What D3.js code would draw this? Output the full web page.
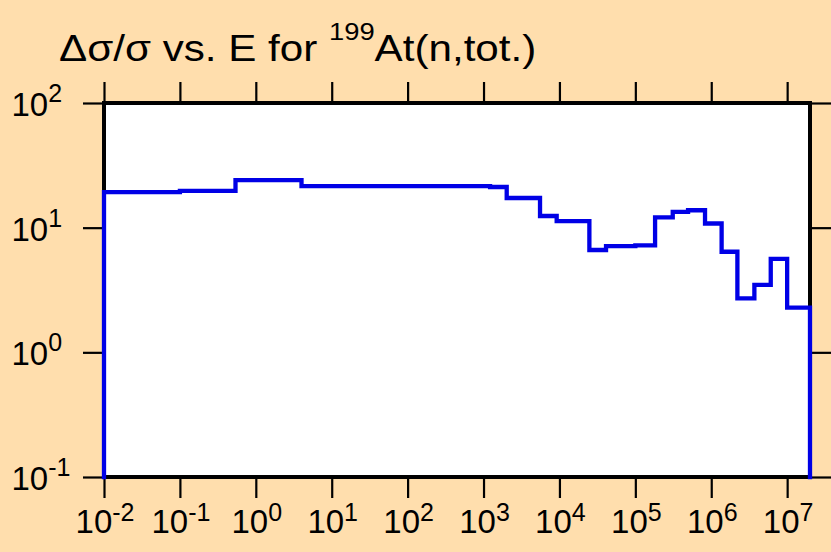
<!DOCTYPE html>
<html>
<head>
<meta charset="utf-8">
<script src="https://cdn.jsdelivr.net/npm/d3@7"></script>
<style>
  html, body { margin: 0; padding: 0; background: #FFDEAD; }
  svg { display: block; }
  text { font-family: "Liberation Sans", Arial, sans-serif; fill: #000; }
</style>
</head>
<body>
<svg id="chart" width="831" height="552"></svg>
<script>
// Energy group boundaries (eV) and relative uncertainty (%) per group
const energyEdges = [1e-2, 1e-1, 0.54, 4.0, 1.22e3, 2.02e3, 5.55e3, 9.2e3, 2.48e4, 4.11e4, 1.0e5, 1.82e5,
                     3.11e5, 4.95e5, 8.28e5, 1.37e6, 2.21e6, 3.7e6, 6.08e6, 1.0e7, 2.0e7];
const uncertainty = [19.3, 19.7, 24.1, 21.5, 21.2, 17.3, 12.4, 11.3, 6.62, 7.1, 7.2, 12.1,
                     13.4, 13.8, 10.8, 6.41, 2.71, 3.47, 5.61, 2.28];
const xTickExponents = [-2, -1, 0, 1, 2, 3, 4, 5, 6, 7];
const yTickExponents = [-1, 0, 1, 2];
const xDomain = [1e-2, 2e7];
const yDomain = [0.1, 100];

const svg = d3.select("#chart");
const W = 831, H = 552;
const plot = { left: 104, right: 810, top: 103, bottom: 477 };

svg.append("rect").attr("width", W).attr("height", H).attr("fill", "#FFDEAD");

const x = d3.scaleLog().domain(xDomain).range([plot.left, plot.right]);
const y = d3.scaleLog().domain(yDomain).range([plot.bottom, plot.top]);

// plot area
svg.append("rect")
  .attr("x", plot.left).attr("y", plot.top)
  .attr("width", plot.right - plot.left).attr("height", plot.bottom - plot.top)
  .attr("fill", "#fff");

// ticks with d3 axes (labels drawn separately)
const xVals = xTickExponents.map(e => Math.pow(10, e));
const yVals = yTickExponents.map(e => Math.pow(10, e));
function styleAxis(g) {
  g.select(".domain").remove();
  g.selectAll(".tick line").attr("stroke", "#000").attr("stroke-width", 2.2);
  g.selectAll(".tick text").remove();
}
svg.append("g").attr("transform", `translate(0,${plot.bottom})`)
  .call(d3.axisBottom(x).tickValues(xVals).tickSizeOuter(0).tickSize(21)).call(styleAxis);
svg.append("g").attr("transform", `translate(0,${plot.top})`)
  .call(d3.axisTop(x).tickValues(xVals).tickSizeOuter(0).tickSize(21)).call(styleAxis);
svg.append("g").attr("transform", `translate(${plot.left},0)`)
  .call(d3.axisLeft(y).tickValues(yVals).tickSizeOuter(0).tickSize(21)).call(styleAxis);
svg.append("g").attr("transform", `translate(${plot.right},0)`)
  .call(d3.axisRight(y).tickValues(yVals).tickSizeOuter(0).tickSize(21)).call(styleAxis);

// frame
svg.append("rect")
  .attr("x", plot.left).attr("y", plot.top)
  .attr("width", plot.right - plot.left).attr("height", plot.bottom - plot.top)
  .attr("fill", "none").attr("stroke", "#000").attr("stroke-width", 4);

// step line
const pts = [[energyEdges[0], yDomain[0]]];
uncertainty.forEach((v, i) => {
  pts.push([energyEdges[i], v]);
  pts.push([energyEdges[i + 1], v]);
});
pts.push([energyEdges[energyEdges.length - 1], yDomain[0]]);
const line = d3.line().x(d => x(d[0])).y(d => y(d[1]));
svg.append("path").attr("d", line(pts))
  .attr("fill", "none").attr("stroke", "#0000E6").attr("stroke-width", 4.3)
  .attr("stroke-linejoin", "miter").attr("stroke-linecap", "square");

// x tick labels
xTickExponents.forEach(e => {
  const t = svg.append("text")
    .attr("transform", `translate(${x(Math.pow(10, e)) + 1},533)`)
    .attr("text-anchor", "middle").attr("font-size", 33);
  t.append("tspan").text("10");
  t.append("tspan").attr("dy", -12).attr("font-size", 25).text(String(e));
});
// y tick labels
yTickExponents.forEach(e => {
  const t = svg.append("text")
    .attr("transform", `translate(11.5,${y(Math.pow(10, e)) + 13})`)
    .attr("font-size", 33);
  t.append("tspan").text("10");
  t.append("tspan").attr("dy", -14).attr("font-size", 25).text(String(e));
});

// title
const title = svg.append("text")
  .attr("transform", "translate(59,61) scale(1.14,1)")
  .attr("font-size", 37);
title.append("tspan").text("Δσ/σ vs. E for ");
title.append("tspan").attr("dy", -21).attr("font-size", 24).text("199");
title.append("tspan").attr("dy", 21).text("At(n,tot.)");
</script>
</body>
</html>
